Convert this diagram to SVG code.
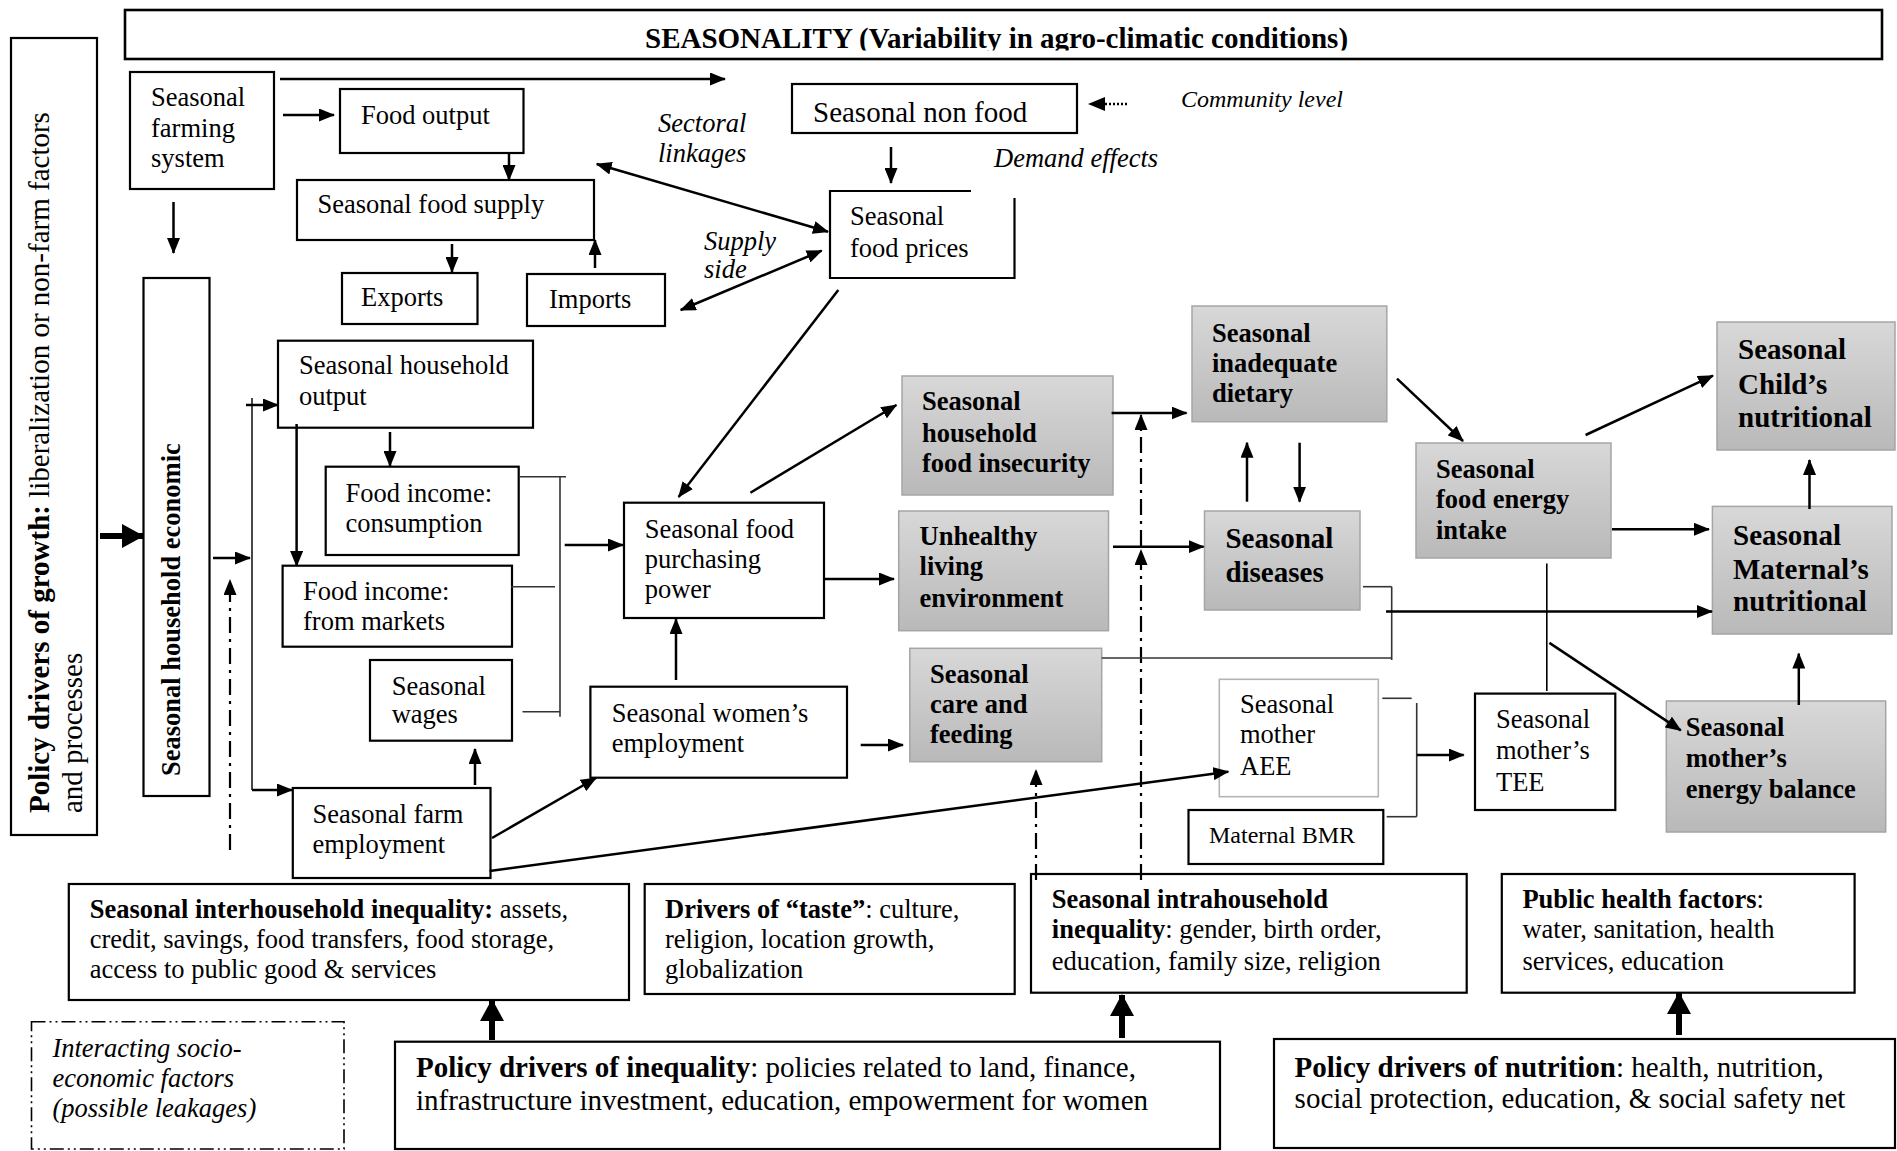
<svg xmlns="http://www.w3.org/2000/svg" width="1897" height="1151" viewBox="0 0 1897 1151">
<defs>
<linearGradient id="g" x1="0" y1="0" x2="0" y2="1"><stop offset="0" stop-color="#d8d8d8"/><stop offset="1" stop-color="#b9b9b9"/></linearGradient>
<marker id="ah" viewBox="0 0 16 13" refX="15" refY="6.5" markerWidth="16" markerHeight="13" markerUnits="userSpaceOnUse" orient="auto-start-reverse"><path d="M0,0L16,6.5L0,13z"/></marker>
<marker id="th" viewBox="0 0 22 24" refX="21" refY="12" markerWidth="22" markerHeight="24" markerUnits="userSpaceOnUse" orient="auto"><path d="M0,0L22,12L0,24z"/></marker>
<clipPath id="bc"><rect x="125" y="10" width="1757" height="40.5"/></clipPath>
</defs>
<style>
.box{fill:#fff;stroke:#000;stroke-width:2.2}
.gbox{fill:url(#g);stroke:#a5a5a5;stroke-width:1.5}
.t{font-family:"Liberation Serif","Times New Roman",serif;font-size:26.5px;fill:#000}
.L{font-size:29px}
.S{font-size:24px}
.b{font-weight:bold}
.i{font-style:italic}
.a{stroke:#000;stroke-width:2.5;fill:none;marker-end:url(#ah)}
.da{stroke:#000;stroke-width:2.5;fill:none;marker-start:url(#ah);marker-end:url(#ah)}
.tk{stroke:#000;stroke-width:6;fill:none;marker-end:url(#th)}
.dd{stroke:#000;stroke-width:2.2;fill:none;stroke-dasharray:16 6 3 6;marker-end:url(#ah)}
.br{stroke:#333;stroke-width:1.6;fill:none}
</style>

<g id="banner">
<rect x="125" y="10" width="1757" height="49" fill="#fff" stroke="#000" stroke-width="2.6"/>
<text class="t b L" x="645" y="48" clip-path="url(#bc)">SEASONALITY (Variability in agro-climatic conditions)</text>
</g>

<g id="policy-growth">
<rect class="box" x="11" y="38" width="86" height="797"/>
<text class="t L" transform="translate(49,813) rotate(-90)"><tspan class="b">Policy drivers of growth:</tspan> liberalization or non-farm factors</text>
<text class="t L" transform="translate(82,813) rotate(-90)">and processes</text>
</g>

<g id="household-economic">
<rect class="box" x="143.5" y="278" width="66" height="518"/>
<text class="t b" transform="translate(180,776) rotate(-90)">Seasonal household economic</text>
</g>

<g id="farming-system">
<rect class="box" x="130" y="72" width="144" height="117"/>
<text class="t" x="151" y="106">Seasonal</text>
<text class="t" x="151" y="137">farming</text>
<text class="t" x="151" y="167">system</text>
</g>

<g id="food-output">
<rect class="box" x="340" y="89" width="183.5" height="64"/>
<text class="t" x="361" y="124">Food output</text>
</g>

<g id="food-supply">
<rect class="box" x="297" y="180" width="297" height="60"/>
<text class="t" x="317.5" y="213">Seasonal food supply</text>
</g>

<g id="exports">
<rect class="box" x="342" y="273" width="135.5" height="51"/>
<text class="t" x="361" y="306">Exports</text>
</g>

<g id="imports">
<rect class="box" x="527" y="274" width="138" height="52"/>
<text class="t" x="549" y="308">Imports</text>
</g>

<g id="non-food">
<rect class="box" x="792" y="84" width="285" height="49"/>
<text class="t L" x="813" y="122">Seasonal non food</text>
</g>

<g id="food-prices">
<path d="M971,191H830V278H1014.5V198" fill="#fff" stroke="#000" stroke-width="2.2"/>
<text class="t" x="850" y="225">Seasonal</text>
<text class="t" x="850" y="257">food prices</text>
</g>

<g id="labels">
<text class="t i" x="658" y="132">Sectoral</text>
<text class="t i" x="658" y="162">linkages</text>
<text class="t i" x="704" y="250">Supply</text>
<text class="t i" x="704" y="278">side</text>
<text class="t i S" x="1181" y="107">Community level</text>
<text class="t i" x="994" y="167">Demand effects</text>
</g>

<g id="household-output">
<rect class="box" x="278" y="340.7" width="255" height="87"/>
<text class="t" x="299" y="374">Seasonal household</text>
<text class="t" x="299" y="405">output</text>
</g>

<g id="income-consumption">
<rect class="box" x="325.7" y="466.7" width="193" height="88.3"/>
<text class="t" x="345.6" y="501.7">Food income:</text>
<text class="t" x="345.6" y="531.7">consumption</text>
</g>

<g id="income-markets">
<rect class="box" x="282.6" y="565.7" width="229.4" height="81"/>
<text class="t" x="303" y="600">Food income:</text>
<text class="t" x="303" y="630">from markets</text>
</g>

<g id="wages">
<rect class="box" x="370" y="660" width="142" height="80.7"/>
<text class="t" x="391.7" y="695">Seasonal</text>
<text class="t" x="391.7" y="723">wages</text>
</g>

<g id="farm-employment">
<rect class="box" x="292.8" y="788" width="197.7" height="90"/>
<text class="t" x="312.6" y="823">Seasonal farm</text>
<text class="t" x="312.6" y="853">employment</text>
</g>

<g id="purchasing-power">
<rect class="box" x="624" y="502.7" width="200" height="115.3"/>
<text class="t" x="644.7" y="538">Seasonal food</text>
<text class="t" x="644.7" y="568">purchasing</text>
<text class="t" x="644.7" y="598">power</text>
</g>

<g id="women-employment">
<rect class="box" x="590.4" y="686.7" width="256.6" height="91"/>
<text class="t" x="611.7" y="721.7">Seasonal women’s</text>
<text class="t" x="611.7" y="751.7">employment</text>
</g>

<g id="food-insecurity">
<rect class="gbox" x="902" y="376" width="211" height="119"/>
<text class="t b" x="921.9" y="410">Seasonal</text>
<text class="t b" x="921.9" y="441.7">household</text>
<text class="t b" x="921.9" y="471.7">food insecurity</text>
</g>

<g id="unhealthy-environment">
<rect class="gbox" x="898.7" y="511" width="209.8" height="119.7"/>
<text class="t b" x="919.6" y="545">Unhealthy</text>
<text class="t b" x="919.6" y="575">living</text>
<text class="t b" x="919.6" y="606.7">environment</text>
</g>

<g id="care-feeding">
<rect class="gbox" x="909.8" y="648.3" width="191.9" height="113.4"/>
<text class="t b" x="930" y="683">Seasonal</text>
<text class="t b" x="930" y="713">care and</text>
<text class="t b" x="930" y="743">feeding</text>
</g>

<g id="inadequate-dietary">
<rect class="gbox" x="1192" y="306" width="194.8" height="115.7"/>
<text class="t b" x="1212" y="341.7">Seasonal</text>
<text class="t b" x="1212" y="371.7">inadequate</text>
<text class="t b" x="1212" y="401.7">dietary</text>
</g>

<g id="diseases">
<rect class="gbox" x="1204.5" y="511" width="155.5" height="99"/>
<text class="t b L" x="1225.4" y="548">Seasonal</text>
<text class="t b L" x="1225.4" y="581.7">diseases</text>
</g>

<g id="energy-intake">
<rect class="gbox" x="1416" y="443" width="195" height="115"/>
<text class="t b" x="1436" y="478">Seasonal</text>
<text class="t b" x="1436" y="508">food energy</text>
<text class="t b" x="1436" y="539">intake</text>
</g>

<g id="child-nutritional">
<rect class="gbox" x="1717" y="322" width="178" height="128"/>
<text class="t b L" x="1738" y="359">Seasonal</text>
<text class="t b L" x="1738" y="393.6">Child’s</text>
<text class="t b L" x="1738" y="426.8">nutritional</text>
</g>

<g id="maternal-nutritional">
<rect class="gbox" x="1712.4" y="506.4" width="179.6" height="127.6"/>
<text class="t b L" x="1733" y="544.6">Seasonal</text>
<text class="t b L" x="1733" y="578.6">Maternal’s</text>
<text class="t b L" x="1733" y="610.7">nutritional</text>
</g>

<g id="energy-balance">
<rect class="gbox" x="1666.3" y="701" width="219.4" height="131"/>
<text class="t b" x="1685.7" y="735.7">Seasonal</text>
<text class="t b" x="1685.7" y="766.8">mother’s</text>
<text class="t b" x="1685.7" y="798">energy balance</text>
</g>

<g id="mother-aee">
<rect x="1219.3" y="679.3" width="159" height="117.4" fill="#fff" stroke="#b5b5b5" stroke-width="1.6"/>
<text class="t" x="1240" y="713">Seasonal</text>
<text class="t" x="1240" y="743">mother</text>
<text class="t" x="1240" y="775">AEE</text>
</g>

<g id="maternal-bmr">
<rect class="box" x="1188.5" y="810" width="194.8" height="54"/>
<text class="t S" x="1209" y="842.7">Maternal BMR</text>
</g>

<g id="mother-tee">
<rect class="box" x="1475" y="693.6" width="140.3" height="116.4"/>
<text class="t" x="1496" y="728">Seasonal</text>
<text class="t" x="1496" y="759">mother’s</text>
<text class="t" x="1496" y="791">TEE</text>
</g>

<g id="interhousehold">
<rect class="box" x="68.8" y="884" width="560.2" height="116"/>
<text class="t" x="89.7" y="918"><tspan class="b">Seasonal interhousehold inequality:</tspan> assets,</text>
<text class="t" x="89.7" y="948">credit, savings, food transfers, food storage,</text>
<text class="t" x="89.7" y="978">access to public good &amp; services</text>
</g>

<g id="taste">
<rect class="box" x="644.7" y="884" width="370" height="110"/>
<text class="t" x="665" y="918"><tspan class="b">Drivers of “taste”</tspan>: culture,</text>
<text class="t" x="665" y="948">religion, location growth,</text>
<text class="t" x="665" y="978">globalization</text>
</g>

<g id="intrahousehold">
<rect class="box" x="1031" y="874" width="435.7" height="118.7"/>
<text class="t b" x="1051.8" y="908">Seasonal intrahousehold</text>
<text class="t" x="1051.8" y="938"><tspan class="b">inequality</tspan>: gender, birth order,</text>
<text class="t" x="1051.8" y="970">education, family size, religion</text>
</g>

<g id="public-health">
<rect class="box" x="1501.8" y="874" width="352.8" height="118.7"/>
<text class="t" x="1522.4" y="908"><tspan class="b">Public health factors</tspan>:</text>
<text class="t" x="1522.4" y="938">water, sanitation, health</text>
<text class="t" x="1522.4" y="970">services, education</text>
</g>

<g id="interacting">
<rect x="31.5" y="1021.7" width="312.5" height="127.3" fill="#fff" stroke="#000" stroke-width="1.6" stroke-dasharray="14 4 2 4 2 4"/>
<text class="t i" x="52.4" y="1056.7">Interacting socio-</text>
<text class="t i" x="52.4" y="1086.7">economic factors</text>
<text class="t i" x="52.4" y="1116.7">(possible leakages)</text>
</g>

<g id="policy-inequality">
<rect class="box" x="395" y="1041.7" width="825" height="107.3"/>
<text class="t L" x="416" y="1076.7"><tspan class="b">Policy drivers of inequality</tspan>: policies related to land, finance,</text>
<text class="t L" x="416" y="1110">infrastructure investment, education, empowerment for women</text>
</g>

<g id="policy-nutrition">
<rect class="box" x="1274" y="1039" width="621" height="109"/>
<text class="t L" x="1294.6" y="1076.7"><tspan class="b">Policy drivers of nutrition</tspan>: health, nutrition,</text>
<text class="t L" x="1294.6" y="1108">social protection, education, &amp; social safety net</text>
</g>

<g id="connectors">
<line class="a" x1="280" y1="79" x2="725" y2="79"/>
<line class="a" x1="283" y1="115" x2="334" y2="115"/>
<line class="a" x1="509" y1="153" x2="509" y2="180"/>
<line class="a" x1="173.5" y1="202" x2="173.5" y2="253"/>
<line class="a" x1="452" y1="244" x2="452" y2="272"/>
<line class="a" x1="595" y1="268" x2="595" y2="240"/>
<line class="da" x1="596.7" y1="164" x2="828" y2="231.7"/>
<line class="da" x1="680.7" y1="310" x2="821.7" y2="250.7"/>
<path d="M1088,104L1105,97L1105,111z"/>
<line x1="1105" y1="104" x2="1128" y2="104" stroke="#000" stroke-width="2.4" stroke-dasharray="2 2"/>
<line class="a" x1="891" y1="147" x2="891" y2="183"/>
<line class="a" x1="838.3" y1="290" x2="678.6" y2="497"/>
<line class="tk" x1="100" y1="536" x2="143" y2="536"/>
<line x1="252" y1="398" x2="252" y2="790" stroke="#333" stroke-width="1.8"/>
<line class="a" x1="246" y1="405" x2="278" y2="405"/>
<line class="a" x1="213" y1="558" x2="250" y2="558"/>
<line class="a" x1="252" y1="790" x2="292" y2="790"/>
<line class="dd" x1="230" y1="850" x2="230" y2="580"/>
<line class="a" x1="296.6" y1="424" x2="296.6" y2="566"/>
<line class="a" x1="390" y1="432" x2="390" y2="466"/>
<line class="br" x1="520" y1="476.7" x2="566" y2="476.7"/>
<line class="br" x1="560" y1="476.7" x2="560" y2="716.7"/>
<line class="br" x1="511" y1="586.7" x2="555" y2="586.7"/>
<line class="br" x1="522.5" y1="711.7" x2="560" y2="711.7"/>
<line class="a" x1="564.7" y1="545" x2="623" y2="545"/>
<line class="a" x1="676" y1="680" x2="676" y2="619"/>
<line class="a" x1="475" y1="785" x2="475" y2="749"/>
<line class="a" x1="492" y1="838" x2="596" y2="778"/>
<line class="a" x1="489.6" y1="871" x2="1228.3" y2="771.7"/>
<line class="a" x1="860.7" y1="745" x2="903" y2="745"/>
<line class="a" x1="750.4" y1="492.7" x2="896.4" y2="405"/>
<line class="a" x1="825" y1="579" x2="894" y2="579"/>
<line class="a" x1="1111.6" y1="413" x2="1186.6" y2="413"/>
<line class="a" x1="1113" y1="546.7" x2="1203.6" y2="546.7"/>
<line class="dd" x1="1036" y1="880" x2="1036" y2="770"/>
<line class="dd" x1="1141" y1="880" x2="1141" y2="550"/>
<line class="dd" x1="1141" y1="546" x2="1141" y2="415"/>
<line class="a" x1="1247" y1="501.7" x2="1247" y2="442.7"/>
<line class="a" x1="1299.6" y1="442.7" x2="1299.6" y2="501.7"/>
<line class="br" x1="1363" y1="586.7" x2="1391.7" y2="586.7"/>
<line class="br" x1="1391.7" y1="586.7" x2="1391.7" y2="660"/>
<line class="br" x1="1101.7" y1="658" x2="1391.7" y2="658"/>
<line class="a" x1="1386" y1="611.5" x2="1712" y2="611.5"/>
<line class="a" x1="1397" y1="378.6" x2="1463" y2="441"/>
<line class="a" x1="1585.6" y1="435" x2="1713" y2="375.7"/>
<line class="a" x1="1809.5" y1="509" x2="1809.5" y2="460"/>
<line class="a" x1="1612" y1="529.3" x2="1709" y2="529.3"/>
<line x1="1546.8" y1="563.6" x2="1546.8" y2="691" stroke="#000" stroke-width="1.6"/>
<line class="a" x1="1549.4" y1="642.9" x2="1680.8" y2="730.4"/>
<line class="a" x1="1798.8" y1="705" x2="1798.8" y2="653.6"/>
<line class="br" x1="1382.3" y1="698.3" x2="1411.7" y2="698.3"/>
<line class="br" x1="1416.7" y1="703" x2="1416.7" y2="816.7"/>
<line class="br" x1="1386.7" y1="816.7" x2="1416.7" y2="816.7"/>
<line class="a" x1="1417" y1="755" x2="1463.7" y2="755"/>
<line class="tk" x1="492" y1="1040" x2="492" y2="1000"/>
<line class="tk" x1="1122" y1="1038" x2="1122" y2="995"/>
<line class="tk" x1="1679" y1="1035" x2="1679" y2="993"/>
</g>
</svg>
